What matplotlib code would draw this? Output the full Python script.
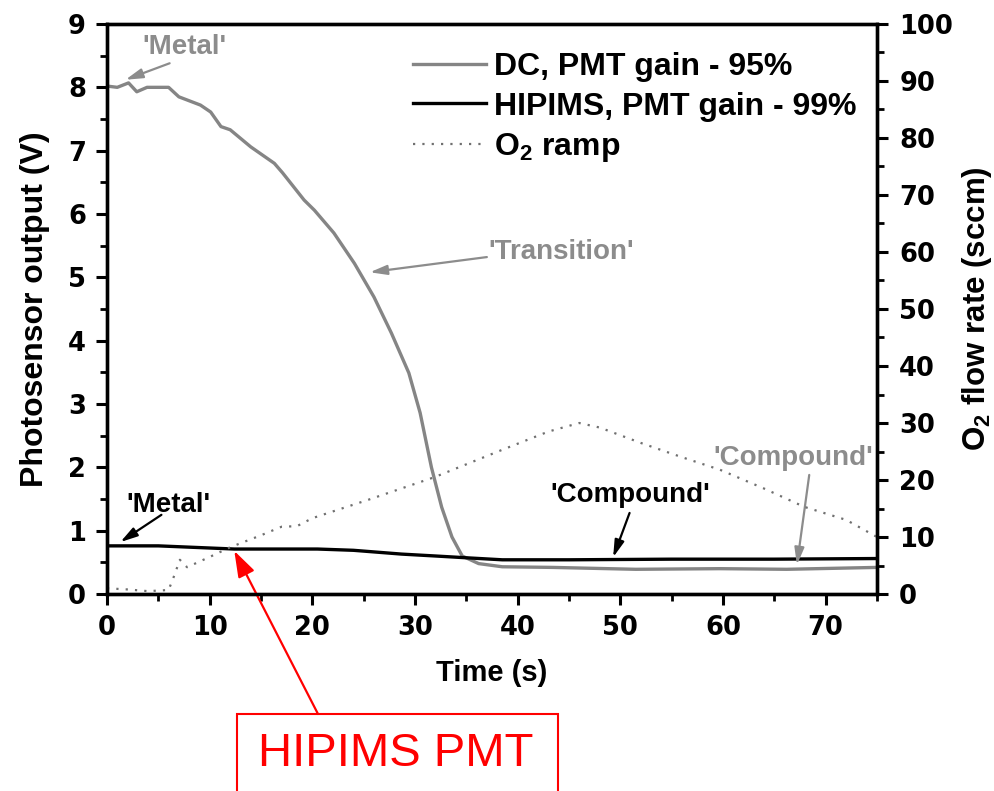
import matplotlib
matplotlib.use("Agg")
import matplotlib.pyplot as plt
from matplotlib.ticker import MultipleLocator
from matplotlib.patches import Rectangle

plt.rcParams['font.family'] = ['Liberation Sans', 'DejaVu Sans']
plt.rcParams['mathtext.fontset'] = 'custom'
plt.rcParams['mathtext.rm'] = 'Liberation Sans'
plt.rcParams['mathtext.bf'] = 'Liberation Sans:bold'

# DC, PMT gain 95% (gray)
dc_t = [0, 1, 2.1, 2.9, 3.9, 6, 7, 9.1, 10.1, 11.1, 12, 14, 16.3, 17.1, 19.2, 20.2, 22.1,
        24.1, 26, 27.7, 29.4, 30.5, 31.6, 32.6, 33.6, 34.6, 36.2, 38.5, 43.4, 51.5, 59.7, 66.2, 75]
dc_v = [8.02, 8.0, 8.07, 7.93, 8.0, 8.0, 7.85, 7.72, 7.61, 7.38, 7.33, 7.06, 6.8, 6.65, 6.22, 6.06, 5.7,
        5.22, 4.69, 4.12, 3.49, 2.86, 2.0, 1.37, 0.9, 0.6, 0.48, 0.43, 0.42, 0.39, 0.40, 0.39, 0.42]

# HIPIMS, PMT gain 99% (black)
hip_t = [0, 5, 12.4, 20.5, 24, 28.7, 32, 35.2, 38.5, 45, 55, 65, 75]
hip_v = [0.76, 0.76, 0.71, 0.71, 0.69, 0.63, 0.60, 0.57, 0.54, 0.54, 0.55, 0.55, 0.56]

# O2 ramp (sccm, right axis)
o2_t = [0, 2, 4, 6, 6.5, 7.1, 7.8, 10, 12, 15, 17, 18.5, 20, 25.4, 31.9, 38.5, 43, 46, 48, 52, 56, 59.7, 64, 67.9, 72, 75]
o2_v = [1.0, 0.8, 0.5, 0.7, 3.0, 6.0, 4.7, 6.5, 8.2, 10.3, 11.8, 11.9, 13.3, 16.5, 20.5, 25.3, 28.5, 30.0, 29.2, 26.5, 24.0, 21.8, 18.5, 15.3, 13.0, 10.0]

x_ticks = [0, 10, 20, 30, 40, 50, 60, 70]
y_ticks = [0, 1, 2, 3, 4, 5, 6, 7, 8, 9]
y2_ticks = [0, 10, 20, 30, 40, 50, 60, 70, 80, 90, 100]

GRAY = '#858585'
TXT_GRAY = '#8c8c8c'
TICK_FS = 18.5
LEG_FS = 23
ANN_FS = 20

fig = plt.figure(figsize=(9.95, 7.91), dpi=100)
ax = fig.add_axes([107/995, (791-594)/791, (877-107)/995, (594-24)/791])
ax2 = ax.twinx()

l1, = ax.plot(dc_t, dc_v, color=GRAY, lw=2.4, label='DC, PMT gain - 95%')
l2, = ax.plot(hip_t, hip_v, color='black', lw=2.4, label='HIPIMS, PMT gain - 99%')
l3, = ax2.plot(o2_t, o2_v, color='#707070', lw=1.6, linestyle=(0, (1, 3.2)), label=r'O$_\mathbf{2}$ ramp')

ax.set_xlim(0, 75)
ax.set_ylim(0, 9)
ax2.set_ylim(0, 100)
ax.set_xticks(x_ticks)
ax.set_yticks(y_ticks)
ax2.set_yticks(y2_ticks)
ax.xaxis.set_minor_locator(MultipleLocator(5))
ax.yaxis.set_minor_locator(MultipleLocator(0.5))
ax2.yaxis.set_minor_locator(MultipleLocator(5))

for a in (ax, ax2):
    for s in a.spines.values():
        s.set_linewidth(2.4)
    a.tick_params(which='major', direction='out', length=8, width=2.2, labelsize=TICK_FS, pad=7.2)
    a.tick_params(which='minor', direction='out', length=5, width=2.0)
    for lab in a.get_xticklabels() + a.get_yticklabels():
        lab.set_fontweight('bold')
        lab.set_family('DejaVu Sans')
ax2.tick_params(which='major', pad=8)
ax.tick_params(top=False)

ax.set_xlabel('Time (s)', fontsize=21, fontweight='bold', labelpad=13)
ax.set_ylabel('Photosensor output (V)', fontsize=23, fontweight='bold', labelpad=13)
ax2.set_ylabel(r'O$_\mathbf{2}$ flow rate (sccm)', fontsize=22.5, fontweight='bold', labelpad=5)

leg = ax.legend(handles=[l1, l2, l3], loc='upper left', bbox_to_anchor=(413/995, 1 - 52/791),
                bbox_transform=fig.transFigure, borderpad=0, borderaxespad=0,
                frameon=False, handlelength=2.3, handletextpad=0.25, labelspacing=0.3,
                prop={'size': LEG_FS, 'weight': 'bold'})

def label_arrow(text, txy, tail, head, color):
    ax.text(txy[0], txy[1], text, color=color, fontsize=ANN_FS, fontweight='bold',
            ha='center', va='center')
    ax.annotate('', xy=head, xytext=tail,
                arrowprops=dict(arrowstyle='-|>,head_length=0.85,head_width=0.24', color=color,
                                lw=1.6, mutation_scale=12, shrinkA=0, shrinkB=0))

label_arrow("'Metal'", (7.5, 8.64), (6.1, 8.38), (1.8, 8.12), TXT_GRAY)
label_arrow("'Transition'", (44.2, 5.4), (37.0, 5.32), (25.6, 5.08), TXT_GRAY)
label_arrow("'Metal'", (6.0, 1.41), (5.3, 1.25), (1.3, 0.82), 'black')
label_arrow("'Compound'", (51.0, 1.56), (50.9, 1.28), (49.3, 0.58), 'black')
label_arrow("'Compound'", (66.8, 2.15), (68.4, 1.88), (67.2, 0.46), TXT_GRAY)

# red callout
fig.patches.append(Rectangle((237/995, -0.02), (558-237)/995, (791-714)/791 + 0.02,
                             transform=fig.transFigure, fill=False, edgecolor='red', lw=1.5))
fig.text(396/995, (791-754)/791, 'HIPIMS PMT', color='red', fontsize=34, ha='center', va='center')
ax.annotate('', xy=(12.4, 0.68), xytext=(318/995, (791-714)/791), textcoords='figure fraction',
            annotation_clip=False,
            arrowprops=dict(arrowstyle='-|>,head_length=0.8,head_width=0.27', color='red', lw=1.6,
                            mutation_scale=20, shrinkA=0, shrinkB=0))

fig.savefig('out.png', dpi=100)
